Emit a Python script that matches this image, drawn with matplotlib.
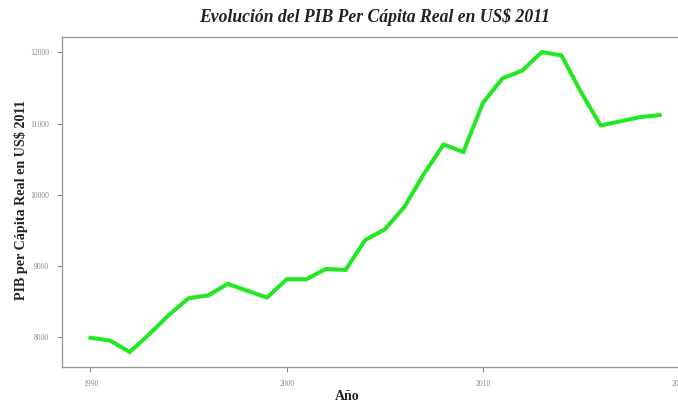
import matplotlib
matplotlib.use("Agg")
import matplotlib.pyplot as plt

years = list(range(1990, 2020))
pib = [7990, 7950, 7790, 8040, 8310, 8545, 8585, 8748, 8650, 8555,
       8812, 8812, 8957, 8943, 9363, 9512, 9830, 10296, 10707, 10600,
       11290, 11636, 11743, 12005, 11958, 11440, 10973, 11030, 11090, 11118]
xticks = [1990, 2000, 2010, 2020]
yticks = [8000, 9000, 10000, 11000, 12000]

W, H = 678, 403
fig = plt.figure(figsize=(W / 100, H / 100), dpi=100)
left, right, top, bottom = 62, 688, 37, 367
ax = fig.add_axes([left / W, 1 - bottom / H, (right - left) / W, (bottom - top) / H])

ax.plot(years, pib, color="#22E822", linewidth=2.9, solid_joinstyle="miter")

ax.set_xlim(1988.55, 2020.45)
ax.set_ylim(7579, 12216)
ax.set_xticks(xticks)
ax.set_xticklabels([str(v) for v in xticks])
ax.set_yticks(yticks)
ax.set_yticklabels([str(v) for v in yticks])

serif = ["Liberation Serif", "DejaVu Serif"]
for lab in ax.get_xticklabels() + ax.get_yticklabels():
    lab.set_family(serif)
    lab.set_fontsize(5.5)
    lab.set_color("#888888")
ax.tick_params(axis="both", length=3.5, width=0.8, color="#888888", pad=6)

for s in ["left", "bottom", "top"]:
    ax.spines[s].set_color("#999999")
    ax.spines[s].set_linewidth(1.0)
ax.spines["right"].set_visible(False)

fig.text(0.552, 1 - 17 / H, "Evolución del PIB Per Cápita Real en US$ 2011",
         ha="center", va="center", fontsize=12.7, fontweight="bold",
         fontstyle="italic", family=serif, color="#222222")
fig.text(347 / W, 1 - 396 / H, "Año", ha="center", va="center",
         fontsize=10, fontweight="bold", family=serif, color="#222222")
fig.text(21 / W, 1 - 200 / H, "PIB per Cápita Real en US$ 2011", ha="center",
         va="center", rotation=90, fontsize=10.2, fontweight="bold",
         family=serif, color="#222222")

fig.savefig("out.png", dpi=100)
